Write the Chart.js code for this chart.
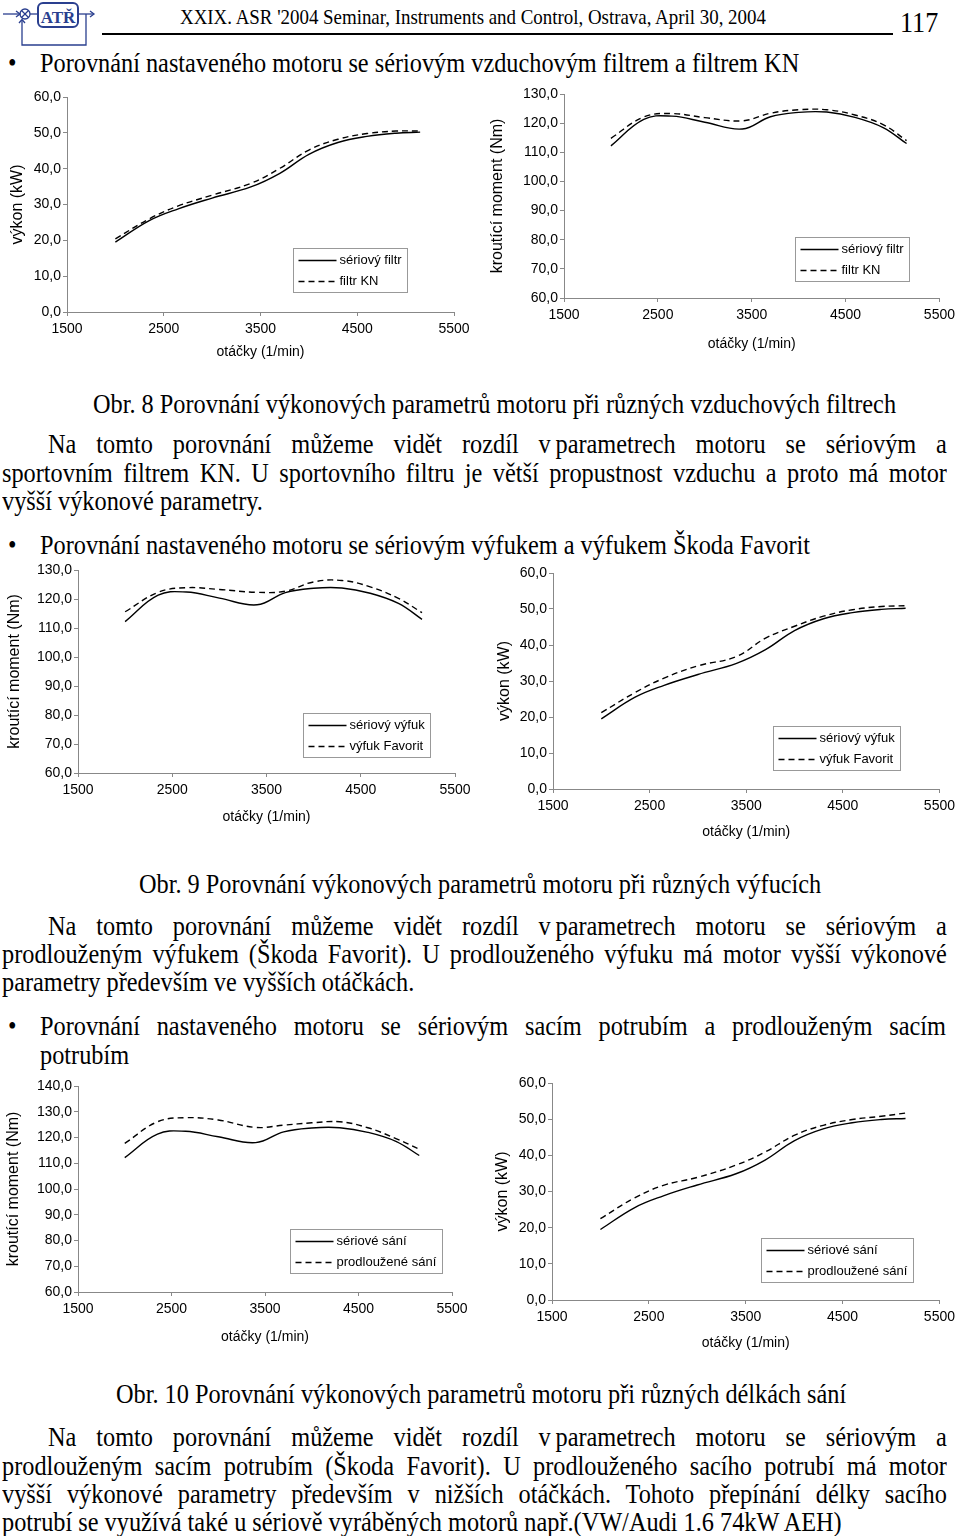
<!DOCTYPE html>
<html>
<head>
<meta charset="utf-8">
<script src="https://cdn.jsdelivr.net/npm/chart.js@4.4.1/dist/chart.umd.min.js"></script>
<style>
html, body { margin: 0; padding: 0; background: #fff; }
#page { position: relative; width: 960px; height: 1536px; overflow: hidden; }
.t { position: absolute; font-family: 'Liberation Serif', 'Times New Roman', serif; font-size: 27px;
     line-height: 30px; height: 30px; white-space: nowrap; color: #000; transform-origin: 0 50%; }
canvas { position: absolute; }
</style>
</head>
<body>
<div id="page">

<svg style="position:absolute;left:0;top:0" width="100" height="50" viewBox="0 0 100 50">
  <g stroke="#2a3f8f" fill="none" stroke-width="1.3">
    <line x1="3" y1="14" x2="19" y2="14"/>
    <polyline points="16,11 20,14 16,17"/>
    <circle cx="25" cy="14" r="5"/>
    <line x1="21.5" y1="10.5" x2="28.5" y2="17.5"/>
    <line x1="28.5" y1="10.5" x2="21.5" y2="17.5"/>
    <line x1="30" y1="14" x2="37" y2="14"/>
    <rect x="38" y="3" width="40" height="24" rx="5" stroke-width="2"/>
    <line x1="78" y1="14" x2="93" y2="14"/>
    <polyline points="90,11 94,14 90,17"/>
    <polyline points="86,14 86,45 22,45 22,20"/>
    <polyline points="19,23 22,19.5 25,23"/>
  </g>
  <text x="58" y="23" text-anchor="middle" font-family="Liberation Serif, serif" font-weight="bold" font-size="17" fill="#2a3f8f">ATŘ</text>
</svg>
<div style="position:absolute;left:102px;top:33px;width:791px;height:1.5px;background:#000"></div>
<div class="t" style="left:180px;top:4px;font-size:21px;line-height:26px;height:26px">XXIX. ASR '2004 Seminar, Instruments and Control, Ostrava, April 30, 2004</div>
<div class="t" style="left:900px;top:6px;font-size:29px;line-height:32px;height:32px">117</div>

<div class="t" style="left:8px;top:48px">•</div>
<div class="t" style="left:40px;top:48px">Porovnání nastaveného motoru se sériovým vzduchovým filtrem a filtrem KN</div>

<canvas id="c1"></canvas>
<canvas id="c2"></canvas>

<div class="t" data-cx="494" style="top:389px">Obr. 8 Porovnání výkonových parametrů motoru při různých vzduchových filtrech</div>
<div class="t" data-j="898" style="left:48px;top:429px">Na tomto porovnání můžeme vidět rozdíl v&#8239;parametrech motoru se sériovým a</div>
<div class="t" data-j="944" style="left:2px;top:458px">sportovním filtrem KN. U sportovního filtru je větší propustnost vzduchu a proto má motor</div>
<div class="t" style="left:2px;top:486px">vyšší výkonové parametry.</div>

<div class="t" style="left:8px;top:530px">•</div>
<div class="t" style="left:40px;top:530px">Porovnání nastaveného motoru se sériovým výfukem a výfukem Škoda Favorit</div>

<canvas id="c3"></canvas>
<canvas id="c4"></canvas>

<div class="t" data-cx="480" style="top:869px">Obr. 9 Porovnání výkonových parametrů motoru při různých výfucích</div>
<div class="t" data-j="898" style="left:48px;top:911px">Na tomto porovnání můžeme vidět rozdíl v&#8239;parametrech motoru se sériovým a</div>
<div class="t" data-j="944" style="left:2px;top:939px">prodlouženým výfukem (Škoda Favorit). U prodlouženého výfuku má motor vyšší výkonové</div>
<div class="t" style="left:2px;top:967px">parametry především ve vyšších otáčkách.</div>

<div class="t" style="left:8px;top:1011px">•</div>
<div class="t" data-j="905" style="left:40px;top:1011px">Porovnání nastaveného motoru se sériovým sacím potrubím a prodlouženým sacím</div>
<div class="t" style="left:40px;top:1040px">potrubím</div>

<canvas id="c5"></canvas>
<canvas id="c6"></canvas>

<div class="t" data-cx="481" style="top:1379px">Obr. 10 Porovnání výkonových parametrů motoru při různých délkách sání</div>
<div class="t" data-j="898" style="left:48px;top:1422px">Na tomto porovnání můžeme vidět rozdíl v&#8239;parametrech motoru se sériovým a</div>
<div class="t" data-j="944" style="left:2px;top:1451px">prodlouženým sacím potrubím (Škoda Favorit). U prodlouženého sacího potrubí má motor</div>
<div class="t" data-j="944" style="left:2px;top:1479px">vyšší výkonové parametry především v nižších otáčkách. Tohoto přepínání délky sacího</div>
<div class="t" style="left:2px;top:1507px">potrubí se využívá také u sériově vyráběných motorů např.(VW/Audi 1.6 74kW AEH)</div>

</div>

<script>
// measured engine data (otáčky in 1/min)
const rpm = [2000, 2350, 2650, 3000, 3400, 3700, 4000, 4300, 4600, 4900, 5150];

// výkon (kW)
const powerSerial  = [19.5, 25.5, 28.8, 31.8, 34.9, 38.7, 44.0, 47.3, 49.0, 49.9, 50.2];
const powerKN      = [20.4, 26.0, 29.6, 32.6, 35.9, 40.1, 45.2, 48.2, 49.8, 50.5, 50.5];
const powerFavorit = [21.2, 26.8, 30.8, 34.2, 36.8, 41.9, 45.2, 48.0, 49.8, 50.7, 50.9];
const powerIntake  = [22.5, 28.2, 31.7, 33.9, 37.3, 40.9, 45.5, 48.3, 49.9, 50.8, 51.7];

// kroutící moment (Nm)
const torqueSerial  = [112.2, 121.3, 122.4, 120.3, 118.0, 122.2, 123.7, 123.8, 122.0, 118.5, 113.0];
const torqueKN      = [114.8, 122.1, 123.3, 121.9, 120.8, 123.4, 124.6, 124.6, 122.8, 119.5, 114.0];
const torqueFavorit = [115.6, 122.3, 123.9, 123.3, 122.3, 122.7, 125.9, 126.4, 124.2, 120.2, 115.3];
const torqueIntake  = [117.7, 126.1, 127.7, 126.8, 123.9, 124.8, 125.7, 126.1, 123.8, 119.6, 115.5];

// tick labels
const rpmTicks = [1500, 2500, 3500, 4500, 5500];
const powerTicks = [0, 10, 20, 30, 40, 50, 60];
const torqueTicks = [60, 70, 80, 90, 100, 110, 120, 130];
const torqueTicksHigh = [60, 70, 80, 90, 100, 110, 120, 130, 140];

/* squeeze the serif text a bit like the scanned page */
const K = 0.9;
document.querySelectorAll('.t').forEach(el => {
  const nat = el.offsetWidth;
  if (el.dataset.j) {
    const w = +el.dataset.j;
    const k = Math.min(K, w / nat);
    el.style.whiteSpace = 'normal';
    el.style.width = (w / k + 1) + 'px';
    el.style.textAlign = 'justify';
    el.style.textAlignLast = 'justify';
    el.style.transform = 'scaleX(' + k + ')';
  } else {
    el.style.transform = 'scaleX(' + K + ')';
    if (el.dataset.cx) el.style.left = (+el.dataset.cx - nat * K / 2) + 'px';
  }
});

Chart.defaults.font.family = '"Liberation Sans", Arial, sans-serif';
Chart.defaults.color = '#000';

// legend box drawn inside the plot area
const boxLegend = {
  id: 'boxLegend',
  afterDraw(chart, args, opts) {
    const { ctx, chartArea: a } = chart;
    const x0 = Math.round(a.left + opts.x * a.width) + 0.5;
    const y0 = Math.round(a.top + opts.y * a.height) + 0.5;
    ctx.save();
    ctx.font = '13px "Liberation Sans", Arial, sans-serif';
    const sets = chart.data.datasets;
    const tw = Math.max(...sets.map(d => ctx.measureText(d.label).width));
    const w = Math.round(5 + 38 + 3 + tw + 6);
    ctx.strokeStyle = '#999';
    ctx.lineWidth = 1;
    ctx.strokeRect(x0, y0, w, 44);
    sets.forEach((d, i) => {
      const y = y0 + 12 + i * 21;
      ctx.strokeStyle = '#000';
      ctx.lineWidth = 1.3;
      ctx.setLineDash(d.borderDash || []);
      ctx.beginPath();
      ctx.moveTo(x0 + 5, y);
      ctx.lineTo(x0 + 43, y);
      ctx.stroke();
      ctx.setLineDash([]);
      ctx.fillStyle = '#000';
      ctx.textBaseline = 'middle';
      ctx.fillText(d.label, x0 + 46, y);
    });
    ctx.restore();
  }
};

const axisGrey = '#888';

function makeChart(id, box, yTitle, yTicks, names, serial, other) {
  const cv = document.getElementById(id);
  const top = box.plot[2] - 12;
  const bottom = Math.round(box.xt + 8.4);
  const padL = Math.round(box.yt - box.left - 9.6);
  const yW = box.plot[0] - box.left - padL;
  const xH = bottom - box.plot[3];
  const padR = box.left + 480 - box.plot[1];
  cv.width = 480;
  cv.height = bottom - top;
  cv.style.left = box.left + 'px';
  cv.style.top = top + 'px';

  const line = (label, ys, dash) => ({
    label: label,
    data: rpm.map((x, i) => ({ x: x, y: ys[i] })),
    borderColor: '#000',
    borderWidth: 1.4,
    borderDash: dash,
    pointRadius: 0,
    tension: 0.4,
    fill: false
  });

  new Chart(cv, {
    type: 'line',
    data: { datasets: [line(names[0], serial, []), line(names[1], other, [6, 4])] },
    options: {
      responsive: false,
      animation: false,
      events: [],
      layout: { padding: { left: padL, right: padR, top: 12, bottom: 0 } },
      plugins: {
        legend: { display: false },
        tooltip: { enabled: false },
        boxLegend: { x: box.legend[0], y: box.legend[1] }
      },
      scales: {
        x: {
          type: 'linear',
          min: rpmTicks[0],
          max: rpmTicks[rpmTicks.length - 1],
          afterBuildTicks: s => { s.ticks = rpmTicks.map(v => ({ value: v })); },
          afterFit: s => { s.height = xH; },
          ticks: { callback: v => String(v), font: { size: 14 }, padding: 5, maxRotation: 0, autoSkip: false },
          grid: { drawOnChartArea: false, tickLength: 4, color: axisGrey },
          border: { color: axisGrey },
          title: { display: true, text: 'otáčky (1/min)', font: { size: 14 }, padding: 0 }
        },
        y: {
          min: yTicks[0],
          max: yTicks[yTicks.length - 1],
          afterBuildTicks: s => { s.ticks = yTicks.map(v => ({ value: v })); },
          afterFit: s => { s.width = yW; },
          ticks: { callback: v => v.toFixed(1).replace('.', ','), font: { size: 14 }, padding: 2, autoSkip: false },
          grid: { drawOnChartArea: false, tickLength: 4, color: axisGrey },
          border: { color: axisGrey },
          title: { display: true, text: yTitle, font: { size: 16 }, padding: 0 }
        }
      }
    },
    plugins: [boxLegend]
  });
}

// where each plot sits on the page: plot = [left, right, top, bottom]
const boxes = {
  c1: { left: 0,   plot: [67, 454, 97, 312],    xt: 353,  yt: 18,  legend: [0.584, 0.702] },
  c2: { left: 480, plot: [564, 942, 94, 298],   xt: 345,  yt: 498, legend: [0.614, 0.701] },
  c3: { left: 0,   plot: [78, 455, 570, 773],   xt: 818,  yt: 15,  legend: [0.597, 0.704] },
  c4: { left: 480, plot: [553, 941, 573, 789],  xt: 833,  yt: 505, legend: [0.570, 0.708] },
  c5: { left: 0,   plot: [78, 452, 1086, 1292], xt: 1338, yt: 14,  legend: [0.567, 0.694] },
  c6: { left: 480, plot: [552, 941, 1083, 1300], xt: 1344, yt: 503, legend: [0.540, 0.714] }
};

makeChart('c1', boxes.c1, 'výkon (kW)', powerTicks, ['sériový filtr', 'filtr KN'], powerSerial, powerKN);
makeChart('c2', boxes.c2, 'kroutící moment (Nm)', torqueTicks, ['sériový filtr', 'filtr KN'], torqueSerial, torqueKN);
makeChart('c3', boxes.c3, 'kroutící moment (Nm)', torqueTicks, ['sériový výfuk', 'výfuk Favorit'], torqueSerial, torqueFavorit);
makeChart('c4', boxes.c4, 'výkon (kW)', powerTicks, ['sériový výfuk', 'výfuk Favorit'], powerSerial, powerFavorit);
makeChart('c5', boxes.c5, 'kroutící moment (Nm)', torqueTicksHigh, ['sériové sání', 'prodloužené sání'], torqueSerial, torqueIntake);
makeChart('c6', boxes.c6, 'výkon (kW)', powerTicks, ['sériové sání', 'prodloužené sání'], powerSerial, powerIntake);
</script>
</body>
</html>
